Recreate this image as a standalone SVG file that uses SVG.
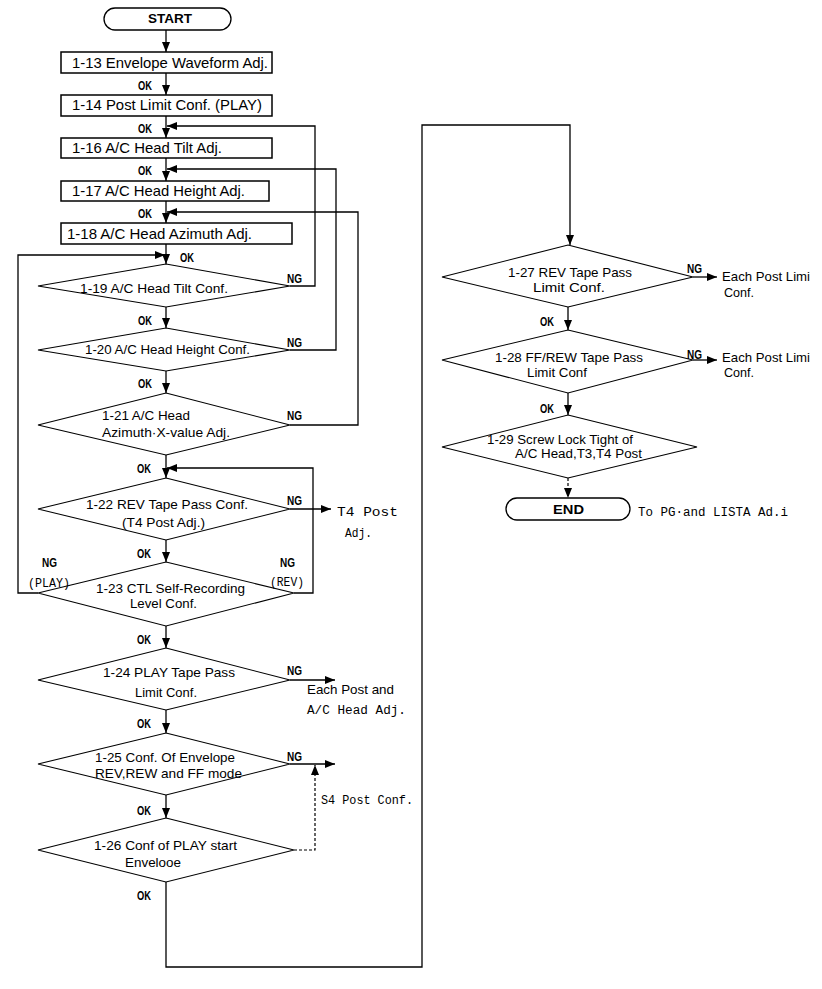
<svg xmlns="http://www.w3.org/2000/svg" width="822" height="989" viewBox="0 0 822 989">
<defs>
<marker id="ah" markerUnits="userSpaceOnUse" markerWidth="10" markerHeight="8" refX="10" refY="4" orient="auto"><path d="M0,0 L10,4 L0,8 z" fill="#000"/></marker>
<style>
.box{fill:#fff;stroke:#000;stroke-width:1.5}
.dia{fill:#fff;stroke:#000;stroke-width:1.1}
.term{fill:#fff;stroke:#000;stroke-width:1.3}
.ln{fill:none;stroke:#000;stroke-width:1.3}
.dl{fill:none;stroke:#000;stroke-width:1.2;stroke-dasharray:3 2}
.ar{marker-end:url(#ah)}
.t{font-family:"Liberation Sans",Arial,sans-serif;font-size:14.5px;fill:#000}
.d{font-family:"Liberation Sans",Arial,sans-serif;font-size:13px;fill:#000}
.s{font-family:"Liberation Sans",Arial,sans-serif;font-size:12px;fill:#000}
.l{font-family:"Liberation Sans",Arial,sans-serif;font-size:12px;font-weight:bold;fill:#000}
.m{font-family:"Liberation Mono","DejaVu Sans Mono",monospace;font-size:12.5px;fill:#000}
.tb{font-family:"Liberation Sans",Arial,sans-serif;font-size:13px;font-weight:bold;fill:#000}
</style>
</defs>
<rect width="822" height="989" fill="#fff"/>

<g id="connectors">
<path class="ln ar" d="M166,30 V52"/>
<path class="ln ar" d="M166,73 V95"/>
<path class="ln ar" d="M166,116 V138"/>
<path class="ln ar" d="M166,158 V181"/>
<path class="ln ar" d="M166,201 V223"/>
<path class="ln ar" d="M166,244 V264"/>
<path class="ln ar" d="M166,307 V328"/>
<path class="ln ar" d="M166,371 V393"/>
<path class="ln ar" d="M166,455 V478"/>
<path class="ln ar" d="M166,540 V562"/>
<path class="ln ar" d="M166,626 V648"/>
<path class="ln ar" d="M166,710 V733"/>
<path class="ln ar" d="M166,795 V818"/>
<path class="ln ar" d="M290,286 H315 V126 H167"/>
<path class="ln ar" d="M290,350 H336 V169 H167"/>
<path class="ln ar" d="M290,425 H358 V212 H167"/>
<path class="ln ar" d="M38,593 H18 V255 H165"/>
<path class="ln ar" d="M294,593 H313 V468 H167"/>
<path class="ln ar" d="M290,509 H331"/>
<path class="ln ar" d="M290,680 H335"/>
<path class="ln ar" d="M290,764 H335"/>
<path class="dl ar" d="M294,850 H315 V765"/>
<path class="ln ar" d="M166,882 V967 H422 V125 H570 V245"/>
<path class="ln ar" d="M693,277 H717"/>
<path class="ln ar" d="M693,360 H717"/>
<path class="ln ar" d="M568,307 V330"/>
<path class="ln ar" d="M568,393 V415"/>
<path class="dl ar" d="M568,478 V498"/>
</g>

<g id="start">
<rect class="term" x="104" y="8" width="127" height="22" rx="11"/>
<text class="tb" x="148" y="23" textLength="44" lengthAdjust="spacingAndGlyphs">START</text>
</g>
<g id="n1-13">
<rect class="box" x="61" y="52" width="211" height="21"/>
<text class="t" x="72" y="68" textLength="196" lengthAdjust="spacingAndGlyphs">1-13 Envelope Waveform Adj.</text>
</g>
<g id="n1-14">
<rect class="box" x="61" y="95" width="211" height="21"/>
<text class="t" x="72" y="110" textLength="190" lengthAdjust="spacingAndGlyphs">1-14 Post Limit Conf. (PLAY)</text>
</g>
<g id="n1-16">
<rect class="box" x="61" y="138" width="211" height="20"/>
<text class="t" x="72" y="153" textLength="150" lengthAdjust="spacingAndGlyphs">1-16 A/C Head Tilt Adj.</text>
</g>
<g id="n1-17">
<rect class="box" x="61" y="181" width="208" height="20"/>
<text class="t" x="72" y="196" textLength="173" lengthAdjust="spacingAndGlyphs">1-17 A/C Head Height Adj.</text>
</g>
<g id="n1-18">
<rect class="box" x="61" y="223" width="231" height="21"/>
<text class="t" x="67" y="239" textLength="185" lengthAdjust="spacingAndGlyphs">1-18 A/C Head Azimuth Adj.</text>
</g>
<g id="n1-19">
<polygon class="dia" points="166,264 290,286 166,307 38,286"/>
<text class="d" x="80" y="293" textLength="148" lengthAdjust="spacingAndGlyphs">1-19 A/C Head Tilt Conf.</text>
</g>
<g id="n1-20">
<polygon class="dia" points="166,328 290,350 166,371 38,350"/>
<text class="d" x="85" y="354" textLength="165" lengthAdjust="spacingAndGlyphs">1-20 A/C Head Height Conf.</text>
</g>
<g id="n1-21">
<polygon class="dia" points="166,393 290,425 166,455 38,425"/>
<text class="d" x="102" y="420" textLength="88" lengthAdjust="spacingAndGlyphs">1-21 A/C Head</text>
<text class="d" x="102" y="437" textLength="128" lengthAdjust="spacingAndGlyphs">Azimuth·X-value Adj.</text>
</g>
<g id="n1-22">
<polygon class="dia" points="166,478 290,509 166,540 38,509"/>
<text class="d" x="86" y="509" textLength="162" lengthAdjust="spacingAndGlyphs">1-22 REV Tape Pass Conf.</text>
<text class="d" x="122" y="527" textLength="83" lengthAdjust="spacingAndGlyphs">(T4 Post Adj.)</text>
</g>
<g id="n1-23">
<polygon class="dia" points="166,562 294,593 166,626 38,593"/>
<text class="d" x="96" y="593" textLength="149" lengthAdjust="spacingAndGlyphs">1-23 CTL Self-Recording</text>
<text class="d" x="130" y="608" textLength="67" lengthAdjust="spacingAndGlyphs">Level Conf.</text>
</g>
<g id="n1-24">
<polygon class="dia" points="166,648 290,680 166,710 38,680"/>
<text class="d" x="103" y="677" textLength="132" lengthAdjust="spacingAndGlyphs">1-24 PLAY Tape Pass</text>
<text class="d" x="135" y="697" textLength="62" lengthAdjust="spacingAndGlyphs">Limit Conf.</text>
</g>
<g id="n1-25">
<polygon class="dia" points="166,733 290,764 166,795 38,764"/>
<text class="d" x="95" y="762" textLength="140" lengthAdjust="spacingAndGlyphs">1-25 Conf. Of Envelope</text>
<text class="d" x="95" y="778" textLength="147" lengthAdjust="spacingAndGlyphs">REV,REW and FF mode</text>
</g>
<g id="n1-26">
<polygon class="dia" points="166,818 294,850 166,882 38,850"/>
<text class="d" x="94" y="850" textLength="143" lengthAdjust="spacingAndGlyphs">1-26 Conf of PLAY start</text>
<text class="d" x="125" y="867" textLength="56" lengthAdjust="spacingAndGlyphs">Envelooe</text>
</g>
<g id="n1-27">
<polygon class="dia" points="568,245 693,277 568,307 442,277"/>
<text class="d" x="508" y="277" textLength="124" lengthAdjust="spacingAndGlyphs">1-27 REV Tape Pass</text>
<text class="d" x="533" y="292" textLength="72" lengthAdjust="spacingAndGlyphs">Limit Conf.</text>
</g>
<g id="n1-28">
<polygon class="dia" points="568,330 693,360 568,393 442,360"/>
<text class="d" x="495" y="362" textLength="148" lengthAdjust="spacingAndGlyphs">1-28 FF/REW Tape Pass</text>
<text class="d" x="527" y="377" textLength="60" lengthAdjust="spacingAndGlyphs">Limit Conf</text>
</g>
<g id="n1-29">
<polygon class="dia" points="568,415 697,447 568,478 442,447"/>
<text class="s" x="487" y="444" textLength="146" lengthAdjust="spacingAndGlyphs">1-29 Screw Lock Tight of</text>
<text class="s" x="515" y="458" textLength="127" lengthAdjust="spacingAndGlyphs">A/C Head,T3,T4 Post</text>
</g>
<g id="end">
<rect class="term" x="506" y="498" width="124" height="22" rx="11"/>
<text class="tb" x="553" y="514" textLength="31" lengthAdjust="spacingAndGlyphs">END</text>
</g>

<g id="labels">
<text class="l" x="138" y="90" textLength="14" lengthAdjust="spacingAndGlyphs">OK</text>
<text class="l" x="138" y="133" textLength="14" lengthAdjust="spacingAndGlyphs">OK</text>
<text class="l" x="138" y="175" textLength="14" lengthAdjust="spacingAndGlyphs">OK</text>
<text class="l" x="138" y="218" textLength="14" lengthAdjust="spacingAndGlyphs">OK</text>
<text class="l" x="180" y="262" textLength="14" lengthAdjust="spacingAndGlyphs">OK</text>
<text class="l" x="138" y="325" textLength="14" lengthAdjust="spacingAndGlyphs">OK</text>
<text class="l" x="138" y="388" textLength="14" lengthAdjust="spacingAndGlyphs">OK</text>
<text class="l" x="137" y="473" textLength="14" lengthAdjust="spacingAndGlyphs">OK</text>
<text class="l" x="137" y="558" textLength="14" lengthAdjust="spacingAndGlyphs">OK</text>
<text class="l" x="137" y="644" textLength="14" lengthAdjust="spacingAndGlyphs">OK</text>
<text class="l" x="137" y="728" textLength="14" lengthAdjust="spacingAndGlyphs">OK</text>
<text class="l" x="137" y="815" textLength="14" lengthAdjust="spacingAndGlyphs">OK</text>
<text class="l" x="137" y="900" textLength="14" lengthAdjust="spacingAndGlyphs">OK</text>
<text class="l" x="540" y="326" textLength="14" lengthAdjust="spacingAndGlyphs">OK</text>
<text class="l" x="540" y="413" textLength="14" lengthAdjust="spacingAndGlyphs">OK</text>
<text class="l" x="287" y="283" textLength="15" lengthAdjust="spacingAndGlyphs">NG</text>
<text class="l" x="287" y="347" textLength="15" lengthAdjust="spacingAndGlyphs">NG</text>
<text class="l" x="287" y="420" textLength="15" lengthAdjust="spacingAndGlyphs">NG</text>
<text class="l" x="287" y="505" textLength="15" lengthAdjust="spacingAndGlyphs">NG</text>
<text class="l" x="42" y="567" textLength="15" lengthAdjust="spacingAndGlyphs">NG</text>
<text class="l" x="280" y="567" textLength="15" lengthAdjust="spacingAndGlyphs">NG</text>
<text class="l" x="287" y="675" textLength="15" lengthAdjust="spacingAndGlyphs">NG</text>
<text class="l" x="287" y="761" textLength="15" lengthAdjust="spacingAndGlyphs">NG</text>
<text class="l" x="687" y="273" textLength="15" lengthAdjust="spacingAndGlyphs">NG</text>
<text class="l" x="687" y="359" textLength="15" lengthAdjust="spacingAndGlyphs">NG</text>
<text class="m" x="28" y="587" textLength="42" lengthAdjust="spacingAndGlyphs">(PLAY)</text>
<text class="m" x="270" y="586" textLength="34" lengthAdjust="spacingAndGlyphs">(REV)</text>
<text class="m" x="337" y="516" textLength="61" lengthAdjust="spacingAndGlyphs">T4 Post</text>
<text class="m" x="345" y="537" textLength="27" lengthAdjust="spacingAndGlyphs">Adj.</text>
<text class="d" x="307" y="694" textLength="87" lengthAdjust="spacingAndGlyphs">Each Post and</text>
<text class="m" x="307" y="714" textLength="99" lengthAdjust="spacingAndGlyphs">A/C Head Adj.</text>
<text class="m" x="321" y="804" textLength="92" lengthAdjust="spacingAndGlyphs">S4 Post Conf.</text>
<text class="d" x="722" y="281" textLength="88" lengthAdjust="spacingAndGlyphs">Each Post Limi</text>
<text class="d" x="724" y="297" textLength="30" lengthAdjust="spacingAndGlyphs">Conf.</text>
<text class="d" x="722" y="362" textLength="88" lengthAdjust="spacingAndGlyphs">Each Post Limi</text>
<text class="d" x="724" y="377" textLength="30" lengthAdjust="spacingAndGlyphs">Conf.</text>
<text class="m" x="638" y="516" textLength="150" lengthAdjust="spacingAndGlyphs">To PG·and LISTA Ad.i</text>
</g>
</svg>
